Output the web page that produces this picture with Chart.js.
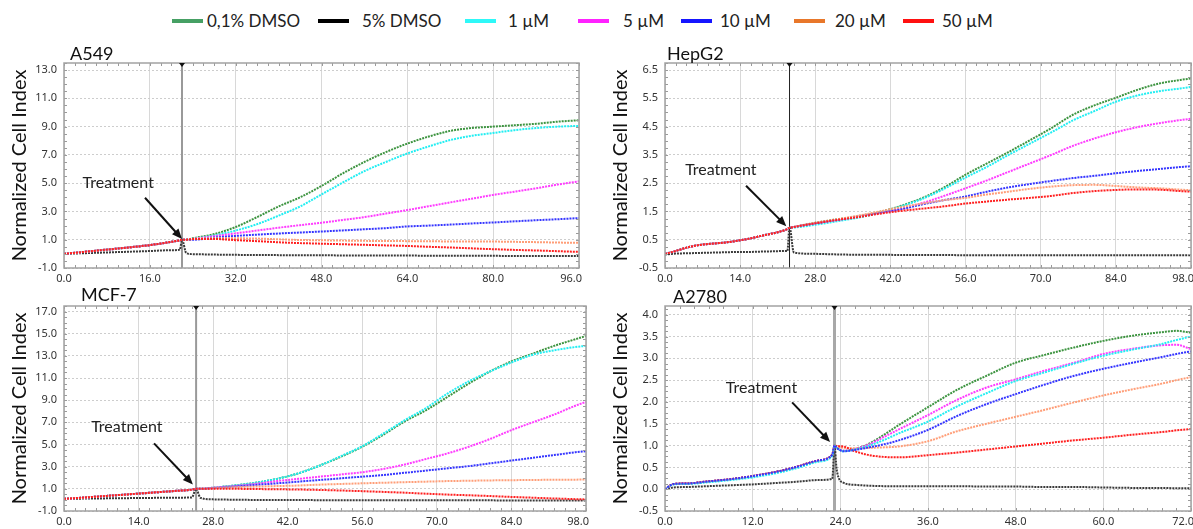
<!DOCTYPE html>
<html>
<head>
<meta charset="utf-8">
<title>Normalized Cell Index</title>
<script src="https://cdn.jsdelivr.net/npm/chart.js@4.4.1/dist/chart.umd.min.js"></script>
<style>
  body { margin: 0; background: #fff; width: 1193px; height: 529px; overflow: hidden; position: relative; font-family: Lato, "Open Sans", sans-serif; }
  .panel { position: absolute; }
  .panel-title { position: absolute; font-size: 18px; line-height: 18px; color: #111; white-space: nowrap; }
  .legend-line { position: absolute; top: 19px; height: 4px; width: 31px; }
  .legend-text { position: absolute; top: 12px; font-size: 17px; line-height: 18px; color: #222; white-space: nowrap; }
</style>
</head>
<body>
<script>
// series names (shared legend)
const SERIES = ['0,1% DMSO', '5% DMSO', '1 µM', '5 µM', '10 µM', '20 µM', '50 µM'];

// ---- A549 ----
const a549Time  = [0, 4, 8, 12, 16, 20, 21.6, 22, 22.8, 24, 28, 32, 36, 40, 44, 48, 52, 56, 60, 64, 68, 72, 76, 80, 84, 88, 92, 96];
const a549Dmso01 = [0, 0.15, 0.3, 0.45, 0.62, 0.85, 0.96, 1.0, 1.0, 1.1, 1.4, 1.9, 2.6, 3.35, 4.0, 4.8, 5.7, 6.5, 7.2, 7.8, 8.3, 8.7, 8.9, 9.0, 9.1, 9.2, 9.35, 9.45];
const a549Dmso5  = [0, 0.05, 0.1, 0.15, 0.2, 0.26, 0.3, 1.0, 0.05, -0.02, -0.05, -0.07, -0.08, -0.09, -0.1, -0.1, -0.11, -0.11, -0.12, -0.12, -0.13, -0.13, -0.14, -0.14, -0.15, -0.15, -0.15, -0.15];
const a549C1     = [0, 0.15, 0.3, 0.45, 0.62, 0.85, 0.96, 1.0, 1.0, 1.05, 1.3, 1.65, 2.1, 2.7, 3.35, 4.2, 5.05, 5.85, 6.5, 7.1, 7.6, 8.05, 8.35, 8.55, 8.75, 8.9, 9.0, 9.05];
const a549C5     = [0, 0.15, 0.3, 0.45, 0.62, 0.85, 0.96, 1.0, 1.0, 1.05, 1.25, 1.45, 1.65, 1.85, 2.03, 2.2, 2.4, 2.6, 2.85, 3.1, 3.37, 3.64, 3.9, 4.17, 4.4, 4.64, 4.9, 5.13];
const a549C10    = [0, 0.15, 0.3, 0.45, 0.62, 0.85, 0.96, 1.0, 1.0, 1.0, 1.15, 1.27, 1.36, 1.44, 1.51, 1.58, 1.66, 1.74, 1.82, 1.94, 2.0, 2.07, 2.15, 2.22, 2.3, 2.38, 2.45, 2.53];
const a549C20    = [0, 0.15, 0.3, 0.45, 0.62, 0.85, 0.96, 1.0, 1.0, 1.05, 1.1, 1.1, 1.08, 1.03, 0.98, 0.96, 0.94, 0.92, 0.91, 0.9, 0.89, 0.88, 0.88, 0.87, 0.85, 0.83, 0.8, 0.78];
const a549C50    = [0, 0.15, 0.3, 0.45, 0.62, 0.85, 0.96, 1.0, 1.0, 1.05, 1.05, 0.97, 0.9, 0.82, 0.76, 0.72, 0.68, 0.64, 0.6, 0.56, 0.5, 0.45, 0.39, 0.33, 0.28, 0.24, 0.19, 0.14];
const a549XTicks = [0, 16, 32, 48, 64, 80, 96];
const a549YTicks = [-1, 1, 3, 5, 7, 9, 11, 13];

// ---- HepG2 ----
const hepg2Time  = [0, 2, 4, 6, 8, 10, 12, 14, 16, 18, 20, 22, 22.8, 23.2, 24, 28, 32, 36, 40, 44, 48, 52, 56, 60, 64, 68, 72, 76, 80, 84, 88, 92, 96, 98];
const hepg2Dmso01 = [0, 0.1, 0.22, 0.3, 0.35, 0.38, 0.42, 0.48, 0.55, 0.64, 0.72, 0.82, 0.88, 0.92, 0.95, 1.1, 1.22, 1.33, 1.48, 1.7, 1.98, 2.35, 2.8, 3.2, 3.6, 4.02, 4.45, 4.92, 5.25, 5.52, 5.8, 6.02, 6.15, 6.2];
const hepg2Dmso5  = [-0.02, 0.01, 0.02, 0.03, 0.04, 0.05, 0.06, 0.07, 0.07, 0.08, 0.09, 0.1, 0.1, 0.95, 0.05, 0.0, -0.02, -0.03, -0.03, -0.04, -0.04, -0.04, -0.05, -0.05, -0.05, -0.05, -0.05, -0.05, -0.05, -0.05, -0.05, -0.05, -0.05, -0.05];
const hepg2C1     = [0, 0.1, 0.22, 0.3, 0.35, 0.38, 0.42, 0.48, 0.55, 0.64, 0.72, 0.82, 0.88, 0.92, 0.93, 1.03, 1.15, 1.28, 1.45, 1.68, 1.95, 2.3, 2.7, 3.08, 3.5, 3.9, 4.3, 4.72, 5.05, 5.38, 5.6, 5.75, 5.85, 5.9];
const hepg2C5     = [0, 0.1, 0.22, 0.3, 0.35, 0.38, 0.42, 0.48, 0.55, 0.64, 0.72, 0.82, 0.88, 0.92, 0.95, 1.08, 1.2, 1.32, 1.45, 1.6, 1.8, 2.05, 2.32, 2.6, 2.9, 3.2, 3.5, 3.82, 4.08, 4.3, 4.48, 4.62, 4.73, 4.78];
const hepg2C10    = [0, 0.1, 0.22, 0.3, 0.35, 0.38, 0.42, 0.48, 0.55, 0.64, 0.72, 0.82, 0.88, 0.92, 0.95, 1.08, 1.2, 1.32, 1.45, 1.58, 1.75, 1.9, 2.03, 2.2, 2.35, 2.47, 2.58, 2.68, 2.76, 2.85, 2.93, 3.0, 3.07, 3.1];
const hepg2C20    = [0, 0.1, 0.22, 0.3, 0.35, 0.38, 0.42, 0.48, 0.55, 0.64, 0.72, 0.82, 0.88, 0.92, 0.95, 1.1, 1.22, 1.35, 1.5, 1.65, 1.78, 1.9, 1.98, 2.1, 2.2, 2.3, 2.38, 2.43, 2.44, 2.4, 2.35, 2.32, 2.27, 2.25];
const hepg2C50    = [0, 0.1, 0.22, 0.3, 0.35, 0.38, 0.42, 0.48, 0.55, 0.64, 0.72, 0.82, 0.88, 0.92, 0.95, 1.08, 1.2, 1.3, 1.42, 1.52, 1.6, 1.68, 1.78, 1.85, 1.92, 1.98, 2.05, 2.15, 2.22, 2.26, 2.28, 2.27, 2.22, 2.2];
const hepg2XTicks = [0, 14, 28, 42, 56, 70, 84, 98];
const hepg2YTicks = [-0.5, 0.5, 1.5, 2.5, 3.5, 4.5, 5.5, 6.5];

// ---- MCF-7 ----
const mcf7Time  = [0, 4, 8, 12, 16, 20, 24, 24.8, 25.6, 28, 32, 36, 40, 44, 48, 52, 56, 60, 64, 68, 72, 76, 80, 84, 88, 92, 96, 98];
const mcf7Dmso01 = [0.1, 0.22, 0.36, 0.5, 0.64, 0.78, 0.93, 1.0, 1.0, 1.1, 1.3, 1.55, 1.9, 2.4, 3.1, 3.9, 4.8, 5.9, 7.1, 8.1, 9.3, 10.5, 11.6, 12.5, 13.2, 13.9, 14.5, 14.8];
const mcf7Dmso5  = [0.1, 0.12, 0.14, 0.16, 0.18, 0.2, 0.22, 1.0, 0.2, 0.05, 0.02, 0.0, 0.0, -0.01, -0.02, -0.02, -0.02, -0.03, -0.03, -0.03, -0.04, -0.04, -0.04, -0.05, -0.05, -0.05, -0.05, -0.05];
const mcf7C1     = [0.1, 0.22, 0.36, 0.5, 0.64, 0.78, 0.93, 1.0, 1.0, 1.1, 1.3, 1.55, 1.9, 2.4, 3.1, 3.95, 4.85, 6.0, 7.2, 8.3, 9.6, 10.7, 11.6, 12.4, 13.1, 13.5, 13.8, 13.9];
const mcf7C5     = [0.1, 0.22, 0.36, 0.5, 0.64, 0.78, 0.93, 1.0, 1.0, 1.1, 1.25, 1.45, 1.7, 1.9, 2.1, 2.3, 2.5, 2.8, 3.2, 3.7, 4.2, 4.8, 5.5, 6.3, 7.0, 7.7, 8.5, 8.85];
const mcf7C10    = [0.1, 0.22, 0.36, 0.5, 0.64, 0.78, 0.93, 1.0, 1.0, 1.05, 1.2, 1.35, 1.5, 1.65, 1.8, 1.95, 2.1, 2.25, 2.45, 2.65, 2.85, 3.05, 3.3, 3.55, 3.8, 4.05, 4.3, 4.4];
const mcf7C20    = [0.1, 0.22, 0.36, 0.5, 0.64, 0.78, 0.93, 1.0, 1.0, 1.05, 1.15, 1.2, 1.25, 1.3, 1.38, 1.44, 1.5, 1.55, 1.6, 1.65, 1.7, 1.73, 1.76, 1.78, 1.8, 1.82, 1.83, 1.84];
const mcf7C50    = [0.1, 0.22, 0.36, 0.5, 0.64, 0.78, 0.93, 1.0, 1.0, 1.0, 1.0, 0.98, 0.96, 0.94, 0.9, 0.85, 0.79, 0.72, 0.65, 0.56, 0.48, 0.42, 0.35, 0.27, 0.2, 0.13, 0.07, 0.04];
const mcf7XTicks = [0, 14, 28, 42, 56, 70, 84, 98];
const mcf7YTicks = [-1, 1, 3, 5, 7, 9, 11, 13, 15, 17];

// ---- A2780 ----
const a2780Time  = [0, 1.2, 3, 6, 9, 12, 15, 18, 21, 22.9, 23.2, 23.5, 24.4, 26, 28, 30, 32, 36, 40, 44, 48, 52, 56, 60, 64, 68, 70, 72];
const a2780Dmso01 = [0, 0.12, 0.13, 0.18, 0.23, 0.3, 0.39, 0.51, 0.66, 0.79, 1.0, 0.95, 0.88, 0.92, 1.05, 1.25, 1.47, 1.88, 2.28, 2.6, 2.9, 3.08, 3.25, 3.4, 3.52, 3.6, 3.63, 3.59];
const a2780Dmso5  = [0, 0.04, 0.05, 0.07, 0.09, 0.11, 0.14, 0.17, 0.21, 0.24, 1.0, 0.45, 0.15, 0.1, 0.08, 0.07, 0.07, 0.07, 0.07, 0.06, 0.06, 0.05, 0.05, 0.04, 0.03, 0.03, 0.02, 0.02];
const a2780C1     = [0, 0.11, 0.12, 0.16, 0.21, 0.27, 0.36, 0.48, 0.63, 0.77, 1.0, 0.95, 0.87, 0.91, 1.0, 1.13, 1.28, 1.55, 1.9, 2.2, 2.48, 2.68, 2.88, 3.06, 3.2, 3.33, 3.42, 3.5];
const a2780C5     = [0, 0.12, 0.13, 0.18, 0.23, 0.3, 0.39, 0.51, 0.66, 0.79, 1.0, 0.95, 0.88, 0.92, 1.03, 1.2, 1.37, 1.7, 2.05, 2.33, 2.52, 2.72, 2.9, 3.1, 3.22, 3.3, 3.31, 3.21];
const a2780C10    = [0, 0.12, 0.13, 0.18, 0.23, 0.3, 0.39, 0.51, 0.66, 0.79, 1.0, 0.95, 0.87, 0.9, 0.96, 1.03, 1.12, 1.36, 1.68, 1.95, 2.18, 2.4, 2.6, 2.76, 2.9, 3.03, 3.1, 3.16];
const a2780C20    = [0, 0.12, 0.13, 0.18, 0.23, 0.3, 0.39, 0.51, 0.66, 0.79, 1.0, 0.97, 0.95, 0.94, 0.95, 0.96, 0.98, 1.1, 1.33, 1.5, 1.66, 1.82, 1.99, 2.15, 2.29, 2.42, 2.5, 2.57];
const a2780C50    = [0, 0.12, 0.13, 0.18, 0.23, 0.3, 0.39, 0.51, 0.66, 0.79, 1.0, 0.99, 0.98, 0.87, 0.78, 0.74, 0.73, 0.78, 0.84, 0.91, 0.98, 1.05, 1.12, 1.18, 1.25, 1.31, 1.35, 1.38];
const a2780XTicks = [0, 12, 24, 36, 48, 60, 72];
const a2780YTicks = [-0.5, 0, 0.5, 1, 1.5, 2, 2.5, 3, 3.5, 4];

// colours
const PLOT_COLORS   = ['#3d9440', '#3a3a3a', '#22eef2', '#ff3cff', '#3535ff', '#ff9e78', '#ff1f1f'];
const LEGEND_COLORS = ['#46a064', '#000000', '#2ef8f8', '#ff22ff', '#1515ff', '#e8772a', '#ff1010'];
const LEGEND_LEFT   = [172, 318, 465, 578, 681, 794, 903];
const LEGEND_TEXT_LEFT = [207, 362, 508, 623, 720, 835, 942];

// draws treatment line, frame, minor ticks, arrow, label and x tick labels
const panelDecor = {
  id: 'panelDecor',
  beforeDatasetsDraw(chart, args, o) {
    const { ctx, chartArea: a, scales: { x } } = chart;
    const tx = x.getPixelForValue(o.treatAt);
    ctx.save();
    ctx.strokeStyle = o.lineColor;
    ctx.lineWidth = o.lineWidth;
    ctx.beginPath();
    ctx.moveTo(tx, a.top);
    ctx.lineTo(tx, a.bottom);
    ctx.stroke();
    ctx.restore();
  },
  afterDatasetsDraw(chart, args, o) {
    const { ctx, chartArea: a, scales: { x, y } } = chart;
    ctx.save();

    // minor ticks
    ctx.strokeStyle = '#9a9a9a';
    ctx.lineWidth = 1;
    ctx.beginPath();
    for (let v = x.min; v <= x.max + 1e-6; v += o.xMinor) {
      const px = Math.round(x.getPixelForValue(v)) + 0.5;
      ctx.moveTo(px, a.top); ctx.lineTo(px, a.top + 3);
      ctx.moveTo(px, a.bottom); ctx.lineTo(px, a.bottom - 3);
    }
    for (let v = y.min; v <= y.max + 1e-6; v += o.yMinor) {
      const py = Math.round(y.getPixelForValue(v)) + 0.5;
      ctx.moveTo(a.left, py); ctx.lineTo(a.left + 3, py);
      ctx.moveTo(a.right, py); ctx.lineTo(a.right - 3, py);
    }
    ctx.stroke();

    // frame
    ctx.strokeStyle = '#a2a2a2';
    ctx.lineWidth = 1.5;
    ctx.strokeRect(a.left, a.top, a.right - a.left, a.bottom - a.top);

    // small marker at top of treatment line
    const tx = x.getPixelForValue(o.treatAt);
    ctx.fillStyle = '#111';
    ctx.beginPath();
    ctx.moveTo(tx - 3, a.top);
    ctx.lineTo(tx + 3, a.top);
    ctx.lineTo(tx, a.top + 4);
    ctx.closePath();
    ctx.fill();

    // arrow
    const x0 = x.getPixelForValue(o.arrowFrom[0]), y0 = y.getPixelForValue(o.arrowFrom[1]);
    const x1 = x.getPixelForValue(o.arrowTo[0]), y1 = y.getPixelForValue(o.arrowTo[1]);
    const ang = Math.atan2(y1 - y0, x1 - x0);
    const head = 11;
    ctx.strokeStyle = '#111';
    ctx.lineWidth = 2;
    ctx.beginPath();
    ctx.moveTo(x0, y0);
    ctx.lineTo(x1 - Math.cos(ang) * head * 0.8, y1 - Math.sin(ang) * head * 0.8);
    ctx.stroke();
    ctx.beginPath();
    ctx.moveTo(x1, y1);
    ctx.lineTo(x1 - head * Math.cos(ang - 0.4), y1 - head * Math.sin(ang - 0.4));
    ctx.lineTo(x1 - head * Math.cos(ang + 0.4), y1 - head * Math.sin(ang + 0.4));
    ctx.closePath();
    ctx.fill();

    // Treatment label
    ctx.font = '16px Lato, "Open Sans", sans-serif';
    ctx.fillStyle = '#222';
    ctx.textAlign = 'center';
    ctx.textBaseline = 'middle';
    ctx.fillText('Treatment', x.getPixelForValue(o.textAt[0]), y.getPixelForValue(o.textAt[1]));

    // x tick labels (last one pulled inside like the original)
    ctx.font = '11px "Noto Sans", "DejaVu Sans", sans-serif';
    ctx.fillStyle = '#333';
    x.ticks.forEach((t, i) => {
      const px = x.getPixelForValue(t.value);
      const last = i === x.ticks.length - 1;
      ctx.textAlign = last ? 'right' : 'center';
      ctx.fillText(t.value.toFixed(1), last ? px + 3 : px, a.bottom + 11);
    });
    ctx.restore();
  }
};

function buildDatasets(time, seriesList, topFirst) {
  return seriesList.map((vals, i) => ({
    label: SERIES[i],
    data: time.map((t, k) => ({ x: t, y: vals[k] })),
    borderColor: PLOT_COLORS[i],
    borderWidth: 2,
    borderDash: [2, 1],
    pointRadius: 0,
    cubicInterpolationMode: 'monotone',
    order: topFirst.indexOf(i)
  }));
}

function makePanel(p) {
  const wrap = document.createElement('div');
  wrap.className = 'panel';
  wrap.style.left = p.box.left + 'px';
  wrap.style.top = p.box.top + 'px';
  const canvas = document.createElement('canvas');
  canvas.width = p.box.w;
  canvas.height = p.box.h;
  wrap.appendChild(canvas);
  document.body.appendChild(wrap);

  const title = document.createElement('div');
  title.className = 'panel-title';
  title.textContent = p.title;
  title.style.left = p.titlePos[0] + 'px';
  title.style.top = p.titlePos[1] + 'px';
  document.body.appendChild(title);

  return new Chart(canvas, {
    type: 'line',
    data: { datasets: buildDatasets(p.time, p.series, p.topFirst) },
    plugins: [panelDecor],
    options: {
      responsive: false,
      animation: false,
      events: [],
      layout: { padding: { top: 5, right: p.padRight, bottom: 0, left: 0 } },
      plugins: {
        legend: { display: false },
        tooltip: { enabled: false },
        panelDecor: p.decor
      },
      scales: {
        x: {
          type: 'linear',
          min: p.xTicks[0],
          max: p.xTicks[p.xTicks.length - 1],
          afterBuildTicks: s => { s.ticks = p.xTicks.map(v => ({ value: v })); },
          afterFit: s => { s.height = p.xHeight; s.paddingLeft = 0; s.paddingRight = 0; },
          ticks: { display: false },
          grid: { color: '#d8d8d8', drawTicks: false },
          border: { display: false }
        },
        y: {
          min: p.yMin,
          max: p.yMax,
          afterBuildTicks: s => { s.ticks = p.yTicks.map(v => ({ value: v })); },
          afterFit: s => { s.width = 64; s.paddingTop = 0; s.paddingBottom = 0; },
          ticks: {
            padding: 7,
            color: '#333',
            font: { family: '"Noto Sans", "DejaVu Sans", sans-serif', size: 11 },
            callback: v => Number(v).toFixed(1)
          },
          grid: { color: '#cdcdcd', drawTicks: false },
          border: { display: false, dash: [2, 2] },
          title: {
            display: true,
            text: 'Normalized Cell Index',
            color: '#111',
            font: { family: 'Lato, "Open Sans", sans-serif', size: 20 },
            padding: { top: 8, bottom: 0 }
          }
        }
      }
    }
  });
}

// legend
SERIES.forEach((name, i) => {
  const line = document.createElement('div');
  line.className = 'legend-line';
  line.style.left = LEGEND_LEFT[i] + 'px';
  line.style.background = LEGEND_COLORS[i];
  document.body.appendChild(line);
  const txt = document.createElement('div');
  txt.className = 'legend-text';
  txt.style.left = LEGEND_TEXT_LEFT[i] + 'px';
  txt.textContent = name;
  document.body.appendChild(txt);
});

const RED_ON_TOP = [6, 5, 4, 3, 2, 1, 0];
const BLUE_ON_TOP = [4, 2, 6, 5, 3, 0, 1];

makePanel({
  title: 'A549', titlePos: [70, 44],
  box: { left: 0, top: 58, w: 596, h: 232 }, padRight: 17, xHeight: 22,
  time: a549Time,
  series: [a549Dmso01, a549Dmso5, a549C1, a549C5, a549C10, a549C20, a549C50],
  topFirst: RED_ON_TOP,
  xTicks: a549XTicks, yTicks: a549YTicks, yMin: -1, yMax: 13.5,
  decor: { treatAt: 22, lineColor: '#999999', lineWidth: 2, xMinor: 2, yMinor: 0.5,
           textAt: [10.1, 5.0], arrowFrom: [15.1, 3.97], arrowTo: [22.0, 1.05] }
});

makePanel({
  title: 'HepG2', titlePos: [667, 44],
  box: { left: 601, top: 58, w: 592, h: 232 }, padRight: 2, xHeight: 22,
  time: hepg2Time,
  series: [hepg2Dmso01, hepg2Dmso5, hepg2C1, hepg2C5, hepg2C10, hepg2C20, hepg2C50],
  topFirst: RED_ON_TOP,
  xTicks: hepg2XTicks, yTicks: hepg2YTicks, yMin: -0.5, yMax: 6.75,
  decor: { treatAt: 23.2, lineColor: '#222', lineWidth: 1, xMinor: 2, yMinor: 0.25,
           textAt: [10.4, 2.98], arrowFrom: [15.1, 2.41], arrowTo: [22.6, 0.98] }
});

makePanel({
  title: 'MCF-7', titlePos: [81, 285],
  box: { left: 0, top: 301, w: 596, h: 228 }, padRight: 10, xHeight: 18,
  time: mcf7Time,
  series: [mcf7Dmso01, mcf7Dmso5, mcf7C1, mcf7C5, mcf7C10, mcf7C20, mcf7C50],
  topFirst: RED_ON_TOP,
  xTicks: mcf7XTicks, yTicks: mcf7YTicks, yMin: -1, yMax: 17.5,
  decor: { treatAt: 24.8, lineColor: '#999999', lineWidth: 2, xMinor: 2, yMinor: 0.5,
           textAt: [11.8, 6.6], arrowFrom: [16.9, 5.1], arrowTo: [24.2, 1.4] }
});

makePanel({
  title: 'A2780', titlePos: [673, 287],
  box: { left: 601, top: 301, w: 592, h: 228 }, padRight: 2, xHeight: 18,
  time: a2780Time,
  series: [a2780Dmso01, a2780Dmso5, a2780C1, a2780C5, a2780C10, a2780C20, a2780C50],
  topFirst: BLUE_ON_TOP,
  xTicks: a2780XTicks, yTicks: a2780YTicks, yMin: -0.5, yMax: 4.2,
  decor: { treatAt: 23.2, lineColor: '#a8a8a8', lineWidth: 3, xMinor: 2, yMinor: 0.125,
           textAt: [13.2, 2.33], arrowFrom: [17.4, 1.99], arrowTo: [22.6, 1.08] }
});
</script>
</body>
</html>
